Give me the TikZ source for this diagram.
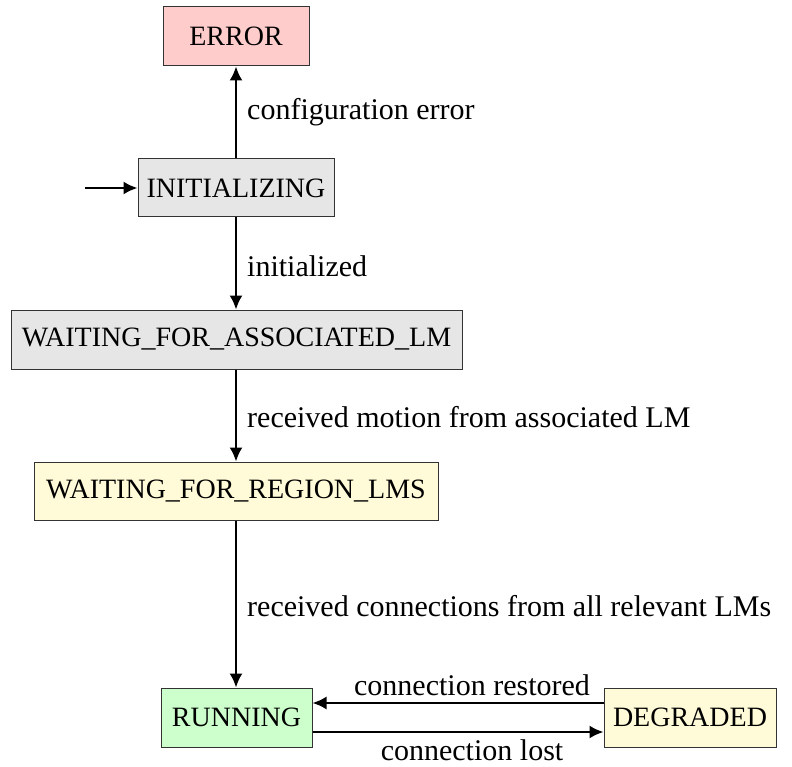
\documentclass[tikz,border=0pt]{standalone}
\usepackage{fontspec}
\setmainfont{Liberation Serif}
\usetikzlibrary{arrows.meta}
\definecolor{errfill}{HTML}{FFCCCC}
\definecolor{greyfill}{HTML}{E6E6E6}
\definecolor{waitfill}{HTML}{FFFBD8}
\definecolor{runfill}{HTML}{CCFFCC}
\definecolor{edgegrey}{HTML}{333333}
\tikzset{
  state/.style={draw=edgegrey, line width=1pt, inner sep=0pt, minimum height=59pt,
    font=\fontsize{28}{33}\selectfont},
  trans/.style={line width=2pt, -{Latex[length=14pt,width=13pt]}},
  lbl/.style={font=\fontsize{30}{35}\selectfont, inner sep=0pt}
}
\begin{document}
\begin{tikzpicture}[x=1pt,y=-1pt]
  \useasboundingbox (0,0) rectangle (792,767);

  % states
  \node[state, fill=errfill,  minimum width=146pt] (err)  at (236,36.5)   {ERROR};
  \node[state, fill=greyfill, minimum width=196pt, minimum height=58pt] (init) at (236,188) {INITIALIZING};
  \node[state, fill=greyfill, minimum width=451pt] (wlm)  at (236.5,339.5) {WAITING\_FOR\_ASSOCIATED\_LM};
  \node[state, fill=waitfill, minimum width=404pt, minimum height=58pt] (wreg) at (236,491) {WAITING\_FOR\_REGION\_LMS};
  \node[state, fill=runfill,  minimum width=151pt] (run)  at (236.5,717.5) {RUNNING};
  \node[state, fill=waitfill, minimum width=172pt] (deg)  at (690,717.5)  {DEGRADED};

  % initial marker
  \coordinate (start) at (85,188);
  \draw[trans] (start) -- (init.west);

  % vertical transitions
  \draw[trans] (init.north -| err.south) -- (err.south);
  \draw[trans] (init.south) -- (wlm.north -| init.south);
  \draw[trans] (wlm.south -| init.south) -- (wreg.north -| init.south);
  \draw[trans] (wreg.south -| init.south) -- (run.north -| init.south);

  % horizontal transitions: restored above, lost below
  \draw[trans] ([yshift=14.5pt]deg.west) -- ([yshift=14.5pt]deg.west -| run.east);
  \draw[trans] ([yshift=-14.5pt]run.east) -- ([yshift=-14.5pt]run.east -| deg.west);

  % labels
  \node[lbl, anchor=west] (l1) at (247,112) {configuration error};
  \node[lbl, anchor=west] (l2) at (247,266) {initialized};
  \node[lbl, anchor=west] (l3) at (247,417) {received motion from associated LM};
  \node[lbl, anchor=west] (l4) at (247,606) {received connections from all relevant LMs};
  \node[lbl] (l5) at (472,685) {connection restored};
  \node[lbl] (l6) at (472,750) {connection lost};
\end{tikzpicture}
\end{document}
